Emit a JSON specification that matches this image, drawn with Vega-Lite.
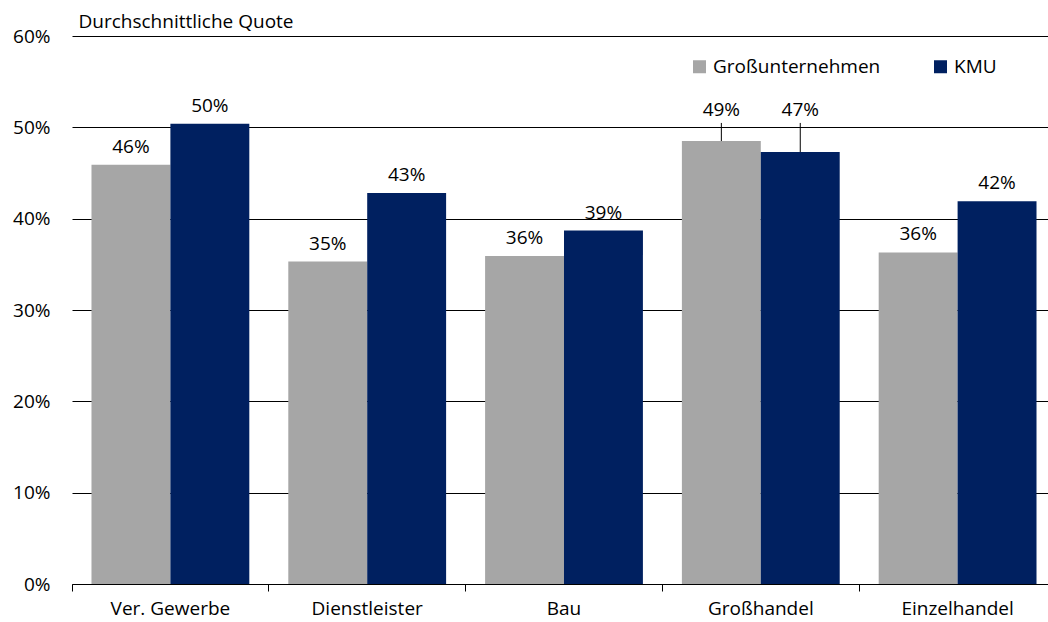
{
  "$schema": "https://vega.github.io/schema/vega-lite/v6.json",
  "autosize": "none",
  "padding": {"left": 72, "top": 36, "right": 0, "bottom": 38},
  "width": 984,
  "height": 548,
  "background": "white",
  "config": {
    "font": "Open Sans",
    "view": {"stroke": null},
    "axis": {"labelFont": "Open Sans", "titleFont": "Open Sans", "labelColor": "#000", "titleColor": "#000"},
    "legend": {"labelFont": "Open Sans"}
  },
  "data": {
    "values": [
      {"Branche": "Ver. Gewerbe", "Gruppe": "Großunternehmen", "Quote": 0.459},
      {"Branche": "Ver. Gewerbe", "Gruppe": "KMU", "Quote": 0.504},
      {"Branche": "Dienstleister", "Gruppe": "Großunternehmen", "Quote": 0.353},
      {"Branche": "Dienstleister", "Gruppe": "KMU", "Quote": 0.428},
      {"Branche": "Bau", "Gruppe": "Großunternehmen", "Quote": 0.359},
      {"Branche": "Bau", "Gruppe": "KMU", "Quote": 0.387},
      {"Branche": "Großhandel", "Gruppe": "Großunternehmen", "Quote": 0.485},
      {"Branche": "Großhandel", "Gruppe": "KMU", "Quote": 0.473},
      {"Branche": "Einzelhandel", "Gruppe": "Großunternehmen", "Quote": 0.363},
      {"Branche": "Einzelhandel", "Gruppe": "KMU", "Quote": 0.419}
    ]
  },
  "encoding": {
    "x": {
      "field": "Branche", "type": "nominal", "sort": null,
      "scale": {"paddingInner": 0, "paddingOuter": 0},
      "axis": {
        "title": null, "labelAngle": 0, "labelFontSize": 19, "labelPadding": 8,
        "bandPosition": 0, "tickSize": 7, "tickColor": "#000", "domainColor": "#000",
        "tickWidth": 1, "domainWidth": 1
      }
    },
    "xOffset": {"field": "Gruppe", "type": "nominal", "sort": ["Großunternehmen", "KMU"], "scale": {"paddingInner": 0, "paddingOuter": 0.247}}
  },
  "layer": [
    {
      "mark": {"type": "bar"},
      "encoding": {
        "y": {
          "field": "Quote", "type": "quantitative",
          "scale": {"domain": [0, 0.6]},
          "axis": {
            "format": ".0%", "values": [0, 0.1, 0.2, 0.3, 0.4, 0.5, 0.6], "labelOverlap": false,
            "domain": false, "ticks": false, "labelPadding": 22, "labelFontSize": 19,
            "grid": true, "gridColor": "#000", "gridWidth": 1,
            "title": "Durchschnittliche Quote", "titleAngle": 0, "titleX": 6, "titleY": -9,
            "titleAlign": "left", "titleBaseline": "alphabetic", "titleFontSize": 19, "titleFontWeight": "normal"
          }
        },
        "color": {
          "field": "Gruppe", "type": "nominal",
          "scale": {"domain": ["Großunternehmen", "KMU"], "range": ["#A6A6A6", "#002060"]},
          "legend": {
            "title": null, "orient": "none", "direction": "horizontal", "legendX": 618, "legendY": 21,
            "symbolType": "square", "symbolSize": 169, "symbolStrokeWidth": 0, "labelFontSize": 19,
            "labelLimit": 400, "columnPadding": 50, "labelOffset": 4, "labelColor": "#000"
          }
        }
      }
    },
    {
      "transform": [{"filter": "datum.Branche !== 'Großhandel'"}],
      "mark": {"type": "text", "baseline": "alphabetic", "dy": -12, "fontSize": 19, "color": "#000"},
      "encoding": {
        "y": {"field": "Quote", "type": "quantitative"},
        "text": {"field": "Quote", "type": "quantitative", "format": ".0%"}
      }
    },
    {
      "transform": [{"filter": "datum.Branche === 'Großhandel'"}],
      "mark": {"type": "text", "baseline": "alphabetic", "fontSize": 19, "color": "#000"},
      "encoding": {
        "y": {"datum": 0.5119, "type": "quantitative"},
        "text": {"field": "Quote", "type": "quantitative", "format": ".0%"}
      }
    },
    {
      "transform": [{"filter": "datum.Branche === 'Großhandel'"}],
      "mark": {"type": "rule", "color": "#000", "strokeWidth": 1},
      "encoding": {
        "y": {"field": "Quote", "type": "quantitative"},
        "y2": {"datum": 0.5048}
      }
    }
  ]
}
